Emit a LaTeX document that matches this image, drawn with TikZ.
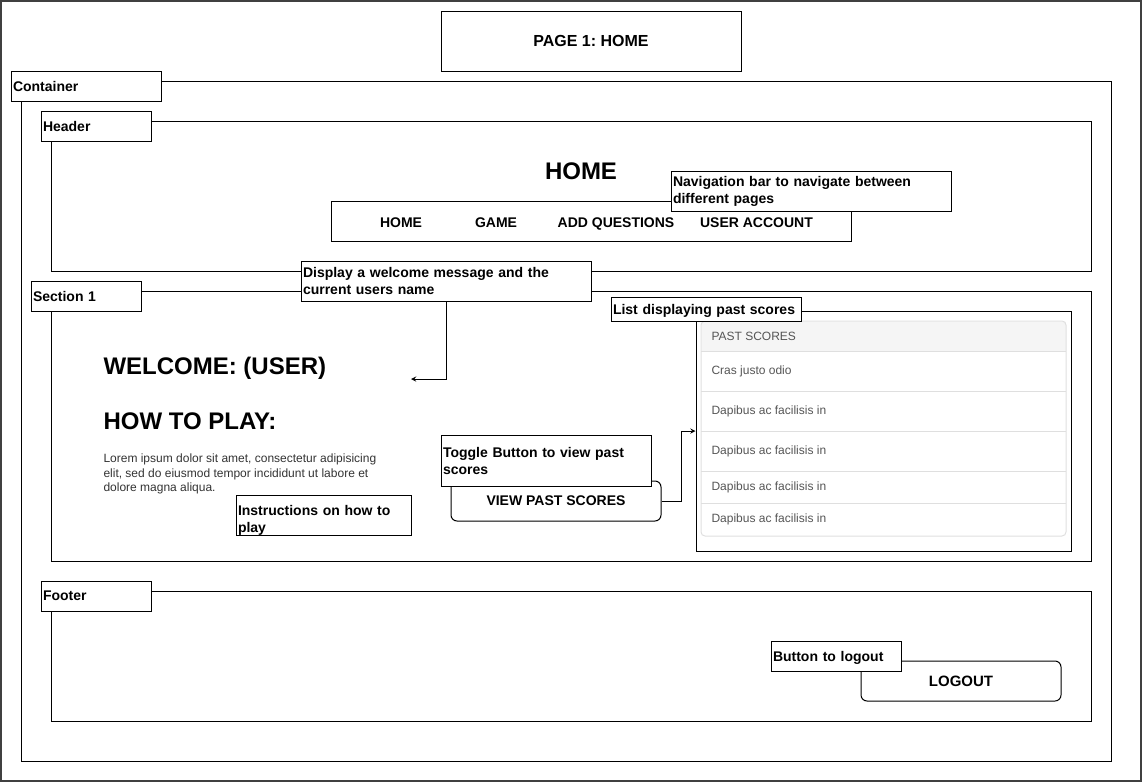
\documentclass[tikz,border=0pt]{standalone}
\usepackage{fontspec}
\setmainfont{Liberation Sans}
\frenchspacing
\definecolor{rowfill}{HTML}{F5F5F5}
\definecolor{rowline}{HTML}{DFDFDF}
\definecolor{rowtext}{HTML}{555555}
\definecolor{bodytext}{HTML}{333333}
\begin{document}
\begin{tikzpicture}[x=0.75pt, y=-0.75pt, line width=0.75pt]
    % Define styles
    \tikzset{
        frame/.style={draw},
        tag/.style={draw, fill=white, align=left, inner xsep=1.5pt, inner ysep=0pt, font=\fontsize{10.5}{12.75}\selectfont\bfseries},
        navitem/.style={text height=7.5pt, text depth=0pt, inner sep=0pt, font=\fontsize{10.5}{12}\selectfont\bfseries},
        heading/.style={anchor=west, inner sep=0pt, text height=12.9pt, text depth=0pt, font=\fontsize{18}{21}\selectfont\bfseries},
        button/.style={draw, fill=white, rounded corners=4.5pt, minimum width=#1, minimum height=30pt},
        arrow/.style={->, >=stealth},
        listrow/.style={anchor=west, inner sep=0pt, text=rowtext, font=\fontsize{9}{11}\selectfont},
    }

    \useasboundingbox (0,0) rectangle (1142,782);
    \draw[line width=1.5pt, gray!50!black] (1,1) rectangle (1141,781);

    % Page title
    \node[draw, minimum width=225pt, minimum height=45pt, text height=8.6pt, text depth=0pt, font=\fontsize{12}{14}\selectfont\bfseries] (pagetitle) at (591,41) {PAGE 1: HOME};

    % Container and its blocks
    \draw[frame] (21,81) rectangle (1111,761);
    \draw[frame] (51,121) rectangle (1091,271);
    \draw[frame] (51,291) rectangle (1091,561);
    \draw[frame] (51,591) rectangle (1091,721);

    % Header
    \node[text height=12.9pt, text depth=0pt, font=\fontsize{18}{21}\selectfont\bfseries] (hometitle) at (581,171) {HOME};
    \node[draw, minimum width=390pt, minimum height=30pt] (navbar) at (591,221) {};
    \node[navitem] (navhome) at (401,222) {HOME};
    \node[navitem] (navgame) at (496,222) {GAME};
    \node[navitem] (navadd) at (616,222) {ADD QUESTIONS};
    \node[navitem] (navuser) at (756.5,222) {USER ACCOUNT};

    % Section 1
    \node[heading] (welcome) at (103,366) {WELCOME: (USER)};
    \node[heading] (howto) at (103,421) {HOW TO PLAY:};
    \node[anchor=west, inner sep=0pt, align=left, text=bodytext, font=\fontsize{9}{10.9}\selectfont] (lorem) at (103,474) {Lorem ipsum dolor sit amet, consectetur adipisicing\\elit, sed do eiusmod tempor incididunt ut labore et\\dolore magna aliqua.};
    \coordinate (welcometip) at (411,379);
    \node[button=157.5pt, font=\fontsize{10.5}{12}\selectfont\bfseries] (viewbtn) at (556,501) {VIEW PAST SCORES};

    % Past scores list
    \node[draw, minimum width=281.25pt, minimum height=180pt] (scorelist) at (883.5,431) {};
    \fill[rowfill] (701.5,321.5) rectangle (1065.5,351);
    \draw[rowline, rounded corners=3pt] (701,321) rectangle (1066,536);
    \foreach \y in {351,391,431,471,503}
        \draw[rowline] (701,\y) -- (1066,\y);
    \node[listrow] (pastscores) at (711,336) {PAST SCORES};
    \foreach \y/\entry [count=\i] in {371/Cras justo odio, 411/Dapibus ac facilisis in, 451/Dapibus ac facilisis in, 487/Dapibus ac facilisis in, 519/Dapibus ac facilisis in}
        \node[listrow] (row\i) at (711,\y) {\entry};

    % Footer
    \node[button=150pt, font=\fontsize{11.25}{13}\selectfont\bfseries] (logoutbtn) at (961,681) {LOGOUT};

    % Labels
    \node[tag, text width=109.5pt, minimum height=22.5pt] (containertag) at (86,86) {Container};
    \node[tag, text width=79.5pt, minimum height=22.5pt] (headertag) at (96,126) {Header};
    \node[tag, text width=79.5pt, minimum height=22.5pt] (sectiontag) at (86,296) {Section 1};
    \node[tag, text width=79.5pt, minimum height=22.5pt] (footertag) at (96,596) {Footer};
    \node[tag, text width=207pt, minimum height=30pt] (navnote) at (811,191) {Navigation bar to navigate between\\different pages};
    \node[tag, text width=214.5pt, minimum height=30pt] (welcomenote) at (446,281) {Display a welcome message and the\\current users name};
    \node[tag, text width=139.5pt, minimum height=18pt, text depth=0pt] (listnote) at (706,309) {List displaying past scores};
    \node[tag, text width=154.5pt, minimum height=38.25pt] (togglenote) at (546,460.5) {Toggle Button to view past\\scores};
    \node[tag, text width=128.25pt, minimum height=30pt] (instrnote) at (323.5,515) {\rule{0pt}{15pt}Instructions on how to\\play};
    \node[tag, text width=94.5pt, minimum height=22.5pt, text depth=0pt] (logoutnote) at (836,656) {Button to logout};

    % Connectors
    \draw[arrow] (welcomenote.south) |- (welcometip);
    \draw[arrow] (viewbtn.east) -- ++(20,0) |- (scorelist.west);
\end{tikzpicture}
\end{document}
